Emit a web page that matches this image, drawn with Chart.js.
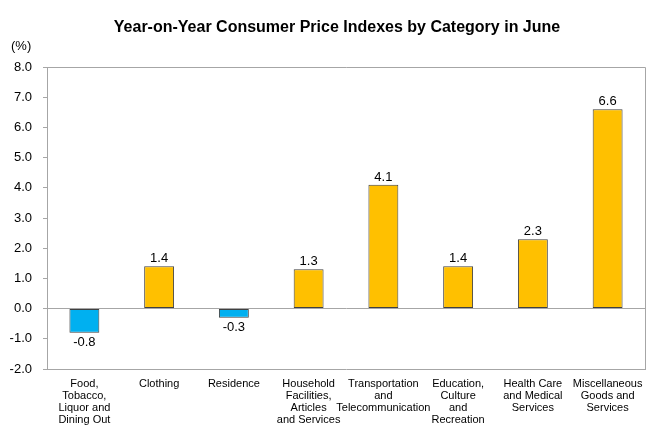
<!DOCTYPE html>
<html>
<head>
<meta charset="utf-8">
<script src="https://cdn.jsdelivr.net/npm/chart.js@4/dist/chart.umd.min.js"></script>
<style>
  html, body { margin: 0; padding: 0; background: #fff; }
  #wrap { width: 660px; height: 440px; position: relative; }
</style>
</head>
<body>
<div id="wrap"><canvas id="cpi"></canvas></div>
<script>
const categories = [
  ['Food,', 'Tobacco,', 'Liquor and', 'Dining Out'],
  ['Clothing'],
  ['Residence'],
  ['Household', 'Facilities,', 'Articles', 'and Services'],
  ['Transportation', 'and', 'Telecommunication'],
  ['Education,', 'Culture', 'and', 'Recreation'],
  ['Health Care', 'and Medical', 'Services'],
  ['Miscellaneous', 'Goods and', 'Services']
]
const yoyValues = [-0.8, 1.4, -0.3, 1.3, 4.1, 1.4, 2.3, 6.6]
const yTicks = [8, 7, 6, 5, 4, 3, 2, 1, 0, -1, -2]

const font = 'Liberation Sans, Arial, sans-serif'
const gold = '#FFC000'
const blue = '#00B0F0'
const axisGray = '#a6a6a6'

// title, unit, frame and value labels
const extras = {
  id: 'extras',
  afterDatasetsDraw (chart) {
    const { ctx, chartArea: a } = chart
    ctx.save()
    ctx.strokeStyle = axisGray
    ctx.lineWidth = 1
    ctx.beginPath()
    ctx.moveTo(a.left, a.top + 0.5)
    ctx.lineTo(a.right + 0.5, a.top + 0.5)
    ctx.lineTo(a.right + 0.5, a.bottom)
    ctx.stroke()

    ctx.fillStyle = '#000'
    ctx.font = 'bold 16px ' + font
    ctx.textAlign = 'center'
    ctx.textBaseline = 'middle'
    ctx.fillText('Year-on-Year Consumer Price Indexes by Category in June', 337, 28)

    ctx.font = '13px ' + font
    ctx.textAlign = 'left'
    ctx.fillText('(%)', 11, 46)

    ctx.font = '13px ' + font
    ctx.textAlign = 'center'
    const meta = chart.getDatasetMeta(0)
    meta.data.forEach((bar, i) => {
      const v = yoyValues[i]
      if (v >= 0) {
        ctx.textBaseline = 'bottom'
        ctx.fillText(v.toFixed(1), bar.x, bar.y - 1)
      } else {
        ctx.textBaseline = 'top'
        ctx.fillText(v.toFixed(1), bar.x, bar.y + 3)
      }
    })
    ctx.restore()
  }
}

new Chart(document.getElementById('cpi').getContext('2d'), {
  type: 'bar',
  data: {
    labels: categories,
    datasets: [
      {
        data: yoyValues,
        backgroundColor: yoyValues.map(v => v < 0 ? blue : gold),
        borderColor: '#404040',
        borderWidth: 1,
        borderSkipped: false,
        categoryPercentage: 1,
        barPercentage: 0.4
      }
    ]
  },
  options: {
    responsive: true,
    maintainAspectRatio: false,
    animation: false,
    layout: { padding: { top: 67, right: 15, left: 0, bottom: 0 } },
    scales: {
      y: {
        min: -2,
        max: 8,
        afterBuildTicks: (scale) => { scale.ticks = yTicks.map(v => ({ value: v })) },
        afterFit: (scale) => { scale.width = 47 },
        grid: {
          drawOnChartArea: true,
          color: (c) => c.tick && c.tick.value === 0 ? axisGray : 'rgba(0,0,0,0)',
          tickColor: axisGray,
          tickLength: 4
        },
        border: { display: true, color: axisGray, width: 1 },
        ticks: {
          color: '#000',
          padding: 11,
          font: { family: font, size: 13 },
          callback: (v) => Number(v).toFixed(1)
        }
      },
      x: {
        afterFit: (scale) => { scale.height = 71 },
        grid: { display: false },
        border: { display: true, color: axisGray, width: 1 },
        ticks: {
          color: '#000',
          padding: 1,
          maxRotation: 0,
          autoSkip: false,
          font: { family: font, size: 11, lineHeight: 1.1 }
        }
      }
    },
    plugins: {
      legend: { display: false },
      tooltip: { enabled: false }
    }
  },
  plugins: [extras]
})
</script>
</body>
</html>
